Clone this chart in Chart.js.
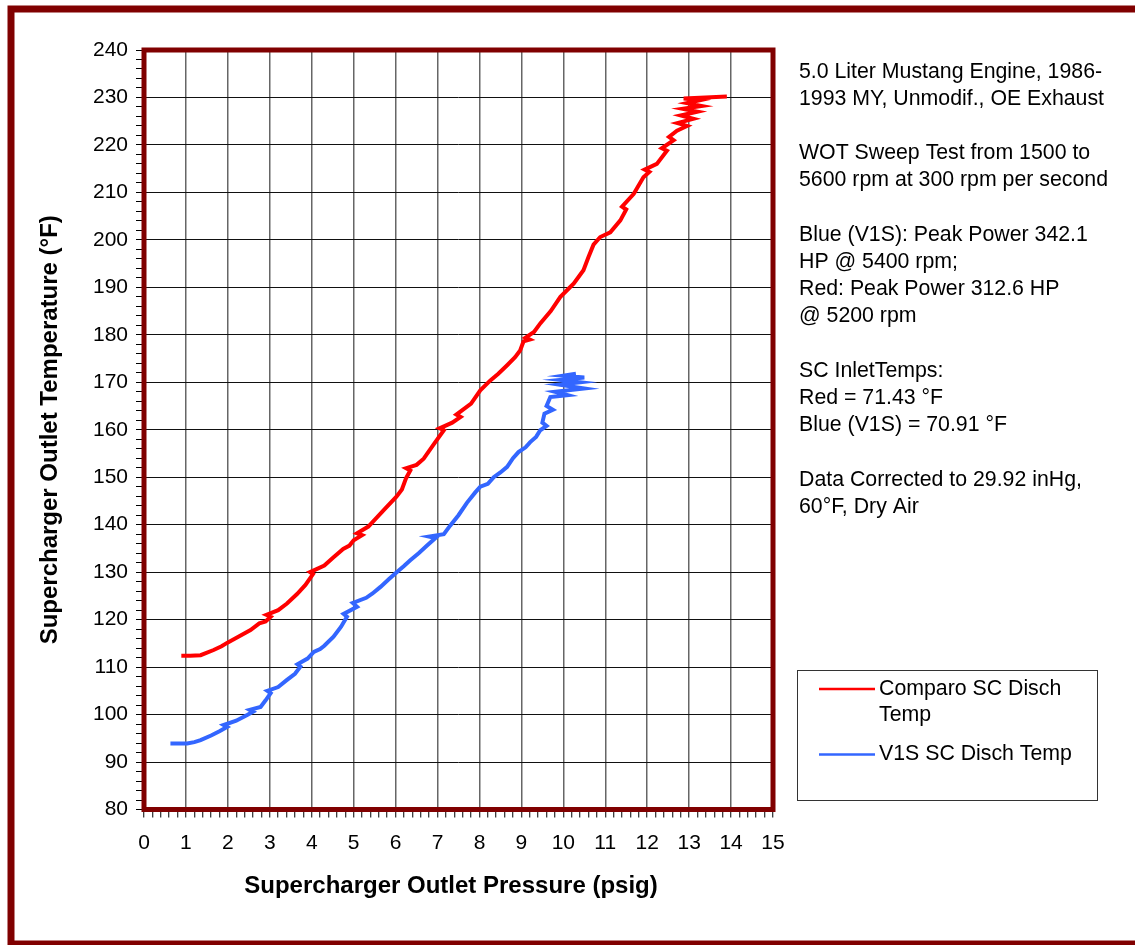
<!DOCTYPE html>
<html>
<head>
<meta charset="utf-8">
<title>Supercharger Outlet Temperature</title>
<script src="https://cdn.jsdelivr.net/npm/chart.js@4.4.1/dist/chart.umd.min.js"></script>
<style>
	html, body { margin:0; padding:0; background:#fff; overflow:hidden; }
	canvas { display:block; }
</style>
</head>
<body>
<canvas id="sc-chart" width="1135" height="945"></canvas>
<script>
//Supercharger Outlet Temp vs Pressure

var redLabel = 'Comparo SC Disch Temp';
var blueLabel = 'V1S SC Disch Temp';

var xTitle = 'Supercharger Outlet Pressure (psig)';
var yTitle = 'Supercharger Outlet Temperature (°F)';

// [pressure psig, temp °F]
var redPoints = [
	[0.89,112.4],[1.1,112.4],[1.35,112.5],[1.66,113.6],[1.85,114.4],[1.98,115.1],[2.25,116.4],[2.54,117.8],
	[2.75,119.2],[2.9,119.6],[3.02,120.6],[2.92,121.0],[3.2,122.0],[3.41,123.4],[3.65,125.4],[3.85,127.3],
	[4.03,129.6],[3.96,130.0],[4.3,131.4],[4.5,133.0],[4.75,134.9],[4.9,135.6],[5.0,136.7],[5.2,137.8],[5.08,138.2],
	[5.35,139.6],[5.5,141.0],[5.75,143.4],[6.02,145.9],[6.15,147.4],[6.25,149.8],[6.35,151.4],[6.25,151.9],
	[6.5,152.6],[6.67,153.9],[6.9,156.8],[7.15,159.9],[7.05,160.3],[7.35,161.5],[7.55,162.7],[7.45,163.2],
	[7.8,165.5],[8.02,168.3],[8.26,170.4],[8.45,171.8],[8.66,173.6],[8.85,175.3],[8.97,176.7],[9.05,178.6],
	[9.2,179.0],[9.1,179.4],[9.3,180.6],[9.45,182.4],[9.7,185.0],[9.93,188.0],[10.1,189.5],[10.25,190.8],
	[10.48,193.6],[10.6,196.4],[10.72,199.0],[10.88,200.6],[11.12,201.6],[11.36,204.1],[11.5,206.4],[11.4,207.0],
	[11.68,209.7],[11.91,213.2],[12.05,214.3],[11.94,214.8],[12.23,216.0],[12.47,218.8],[12.35,219.3],[12.63,221.0],
	[12.52,221.7],[12.71,223.0],[12.95,224.0],[12.72,224.6],[13.1,225.5],[12.8,226.2],[13.2,227.0],[12.85,227.6],
	[13.3,228.2],[12.95,228.8],[13.25,229.4],[12.87,229.8],[13.9,230.2]
];

var bluePoints = [
	[0.63,93.9],[0.85,93.9],[1.03,93.9],[1.2,94.2],[1.35,94.6],[1.6,95.6],[1.8,96.5],[1.98,97.4],
	[1.9,97.8],[2.2,98.7],[2.46,99.9],[2.6,100.6],[2.52,101.0],[2.78,101.6],[2.9,103.0],[3.02,104.5],
	[2.94,105.0],[3.2,105.8],[3.41,107.3],[3.6,108.6],[3.73,110.1],[3.66,110.6],[3.9,111.8],[4.05,113.2],
	[4.2,113.8],[4.3,114.5],[4.52,116.4],[4.7,118.5],[4.84,120.6],[4.76,121.2],[5.08,122.7],[4.98,123.5],
	[5.3,124.6],[5.45,125.5],[5.64,126.9],[5.85,128.6],[6.04,130.1],[6.2,131.3],[6.35,132.5],[6.55,134.0],
	[6.75,135.6],[6.95,137.2],[6.8,137.5],[7.15,138.0],[7.3,139.8],[7.5,142.0],[7.7,144.6],[7.9,146.8],
	[8.02,148.0],[8.2,148.6],[8.34,150.0],[8.5,151.0],[8.66,152.2],[8.8,154.0],[8.93,155.3],[9.1,156.3],
	[9.21,157.4],[9.35,158.5],[9.45,159.9],[9.6,160.8],[9.5,161.5],[9.55,163.4],[9.75,164.2],[9.6,165.0],
	[9.69,166.9],[10.1,167.3],[9.8,168.0],[10.5,168.7],[9.9,169.5],[10.4,170.0],[9.93,170.5],[10.5,171.0],
	[10.0,171.4],[10.3,171.8]
];

var xTicks = [0,1,2,3,4,5,6,7,8,9,10,11,12,13,14,15];
var yTicks = [80,90,100,110,120,130,140,150,160,170,180,190,200,210,220,230,240];

var noteLines = [
	'5.0 Liter Mustang Engine, 1986-',
	'1993 MY, Unmodif., OE Exhaust',
	'',
	'WOT Sweep Test from 1500 to',
	'5600 rpm at 300 rpm per second',
	'',
	'Blue (V1S): Peak Power 342.1',
	'HP @ 5400 rpm;',
	'Red: Peak Power 312.6 HP',
	'@ 5200 rpm',
	'',
	'SC InletTemps:',
	'Red = 71.43 °F',
	'Blue (V1S) = 70.91 °F',
	'',
	'Data Corrected to 29.92 inHg,',
	'60°F, Dry Air'
];

var fontFam = '"Liberation Sans", Arial, sans-serif';
var maroon = '#800000';

function isTick(list, v) {
	return list.indexOf(Math.round(v * 1000) / 1000) >= 0;
}

function wrapWords(ctx, text, maxW) {
	var words = text.split(' '), lines = [], cur = '';
	words.forEach(function(w){
		var test = cur ? cur + ' ' + w : w;
		if (cur && ctx.measureText(test).width > maxW) {
			lines.push(cur);
			cur = w;
		} else {
			cur = test;
		}
	});
	if (cur) lines.push(cur);
	return lines;
}

var sheetPlugin = {
	id: 'sheet',
	beforeDraw: function(chart) {
		var ctx = chart.ctx;
		ctx.save();
		ctx.fillStyle = '#fff';
		ctx.fillRect(0, 0, chart.width, chart.height);
		// outer frame, right side runs off the picture
		ctx.strokeStyle = maroon;
		ctx.lineWidth = 7;
		ctx.strokeRect(11, 9, 1140, 935);
		ctx.restore();
	},
	afterDraw: function(chart) {
		var ctx = chart.ctx, a = chart.chartArea;
		ctx.save();

		// plot area frame
		ctx.strokeStyle = maroon;
		ctx.lineWidth = 5;
		ctx.strokeRect(a.left, a.top, a.right - a.left, a.bottom - a.top);

		// x axis title
		ctx.fillStyle = '#000';
		ctx.font = 'bold 24px ' + fontFam;
		ctx.textAlign = 'center';
		ctx.textBaseline = 'middle';
		ctx.fillText(xTitle, 451, 886);

		// notes on the right
		ctx.font = '21.3px ' + fontFam;
		ctx.textAlign = 'left';
		noteLines.forEach(function(line, i){
			if (line) ctx.fillText(line, 799, 71.7 + i * 27.2);
		});

		// legend box
		ctx.strokeStyle = '#333';
		ctx.lineWidth = 1;
		ctx.strokeRect(797.5, 670.5, 300, 130);
		var ly = 689;
		chart.data.datasets.forEach(function(ds){
			ctx.strokeStyle = ds.borderColor;
			ctx.lineWidth = 2.5;
			ctx.beginPath();
			ctx.moveTo(819, ly);
			ctx.lineTo(875, ly);
			ctx.stroke();
			var lines = wrapWords(ctx, ds.label, 212);
			lines.forEach(function(t, j){
				ctx.fillText(t, 879, ly + j * 26.5);
			});
			ly += lines.length * 26.5 + 12.5;
		});

		ctx.restore();
	}
};

window.addEventListener('load', function(){
	var scCtx = document.getElementById('sc-chart').getContext('2d');
	var scChart = new Chart(scCtx, {
		type: 'scatter',
		data: {
			datasets: [{
				label: redLabel,
				data: redPoints.map(function(p){ return {x: p[0], y: p[1]}; }),
				showLine: true,
				borderColor: '#FF0000',
				backgroundColor: '#FF0000',
				borderWidth: 4,
				pointRadius: 0,
				tension: 0
			}, {
				label: blueLabel,
				data: bluePoints.map(function(p){ return {x: p[0], y: p[1]}; }),
				showLine: true,
				borderColor: '#3366FF',
				backgroundColor: '#3366FF',
				borderWidth: 4,
				pointRadius: 0,
				tension: 0
			}]
		},
		options: {
			responsive: false,
			maintainAspectRatio: false,
			animation: false,
			layout: {
				padding: { left: 0, top: 50, right: 362, bottom: 0 }
			},
			plugins: {
				legend: { display: false },
				tooltip: { enabled: false }
			},
			scales: {
				x: {
					type: 'linear',
					min: 0,
					max: 15,
					afterFit: function(s){ s.height = 135.5; },
					border: { display: false },
					grid: {
						color: function(c){ return isTick(xTicks, c.tick.value) ? '#666' : 'rgba(0,0,0,0)'; },
						lineWidth: 1.5,
						tickColor: '#000',
						tickLength: 8,
						tickWidth: 1
					},
					ticks: {
						stepSize: 0.2,
						autoSkip: false,
						maxRotation: 0,
						padding: 13,
						color: '#000',
						font: { size: 21, family: fontFam },
						callback: function(v){ return isTick(xTicks, v) ? Math.round(v) : ''; }
					}
				},
				y: {
					min: 80,
					max: 240,
					afterFit: function(s){ s.width = 144; },
					border: { display: false },
					grid: {
						color: function(c){ return isTick(yTicks, c.tick.value) ? '#111' : 'rgba(0,0,0,0)'; },
						lineWidth: 1,
						tickColor: '#000',
						tickLength: 8,
						tickWidth: 1
					},
					ticks: {
						stepSize: 2,
						autoSkip: false,
						padding: 8,
						color: '#000',
						font: { size: 21, family: fontFam },
						callback: function(v){ return isTick(yTicks, v) ? v : ''; }
					},
					title: {
						display: true,
						text: yTitle,
						color: '#000',
						font: { size: 24, weight: 'bold', family: fontFam },
						padding: { top: 36, bottom: 0 }
					}
				}
			}
		},
		plugins: [sheetPlugin]
	});
});
</script>
</body>
</html>
